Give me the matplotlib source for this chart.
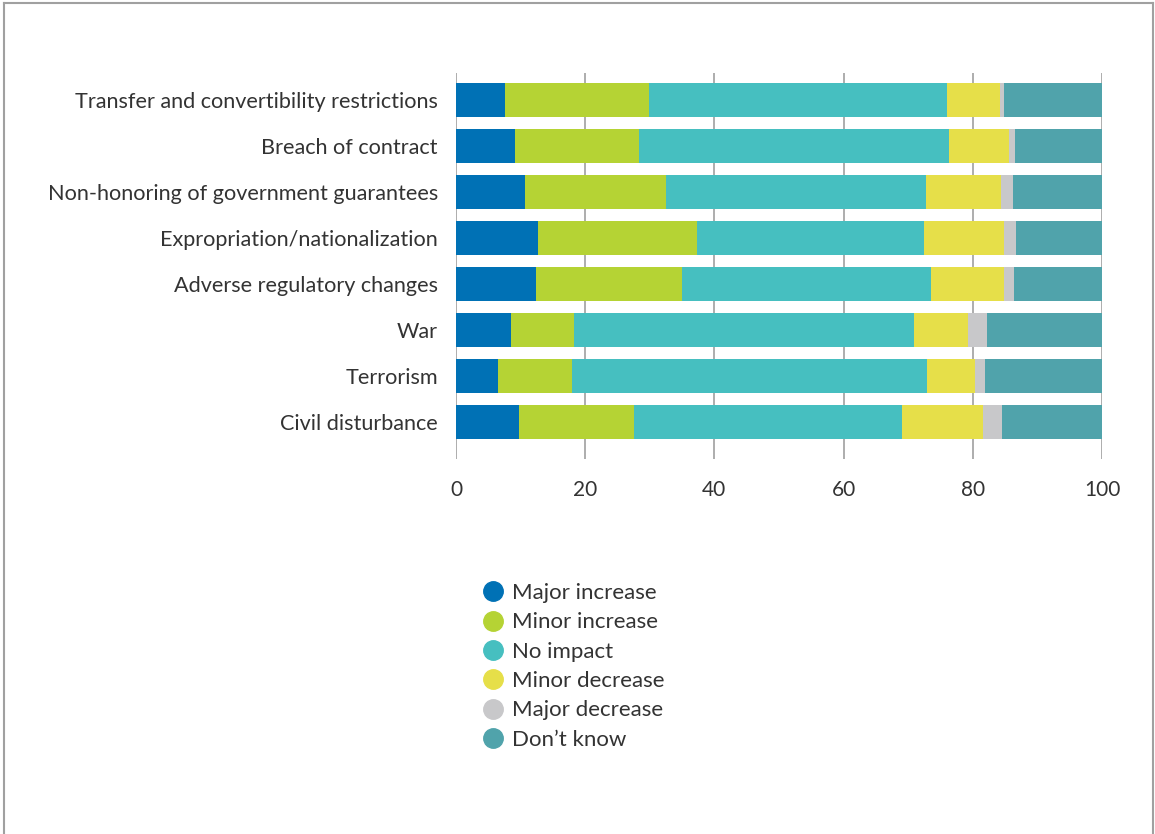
import numpy as np
import matplotlib.pyplot as plt
from matplotlib.lines import Line2D

categories = [
    "Transfer and convertibility restrictions",
    "Breach of contract",
    "Non-honoring of government guarantees",
    "Expropriation/nationalization",
    "Adverse regulatory changes",
    "War",
    "Terrorism",
    "Civil disturbance",
]
series_names = ["Major increase", "Minor increase", "No impact",
                "Minor decrease", "Major decrease", "Don\u2019t know"]
major_increase = [7.6, 9.1, 10.7, 12.7, 12.4, 8.5, 6.5, 9.8]
minor_increase = [22.3, 19.2, 21.8, 24.6, 22.6, 9.8, 11.5, 17.8]
no_impact = [46.1, 48.0, 40.3, 35.1, 38.5, 52.6, 54.9, 41.4]
minor_decrease = [8.2, 9.3, 11.6, 12.4, 11.3, 8.4, 7.4, 12.6]
major_decrease = [0.6, 0.9, 1.8, 1.9, 1.6, 2.9, 1.6, 2.9]
dont_know = [15.2, 13.5, 13.8, 13.3, 13.6, 17.8, 18.1, 15.5]
ticks = [0, 20, 40, 60, 80, 100]

colors = ["#0071b5", "#b5d334", "#46bfc0", "#e6df49", "#c8c8ca", "#50a3ab"]

font = "Lato"
W, H = 1155, 834

fig = plt.figure(figsize=(W / 100, H / 100), dpi=100)
ax = fig.add_axes([456 / W, 1 - 459 / H, (1102 - 456) / W, (459 - 73) / H])

y = np.arange(len(categories))
left = np.zeros(len(categories))
for vals, c in zip([major_increase, minor_increase, no_impact,
                    minor_decrease, major_decrease, dont_know], colors):
    ax.barh(y, vals, left=left, height=0.74, color=c, zorder=2)
    left += np.array(vals)

ax.set_xlim(0, 100)
ax.set_ylim(len(categories) - 1 + 0.804, -0.587)
for t in ticks:
    ax.axvline(t, color="#a0a0a0", lw=1.2, zorder=1)
for s in ax.spines.values():
    s.set_visible(False)
ax.set_xticks(ticks)
ax.set_xticklabels([str(t) for t in ticks], fontfamily=font,
                   fontsize=15, color="#333333")
ax.tick_params(axis="x", length=0, pad=15)
ax.set_yticks(y)
ax.set_yticklabels(categories, fontfamily=font, fontsize=15.6, color="#333333")
ax.tick_params(axis="y", length=0, pad=13)

handles = [Line2D([], [], marker="o", ls="", markersize=14, color=c) for c in colors]
fig.legend(handles, series_names, loc="upper left",
           bbox_to_anchor=(482 / W, 1 - 583 / H), frameon=False,
           prop={"family": font, "size": 16}, labelcolor="#333333",
           handletextpad=0.35, labelspacing=0.42, handlelength=1.0,
           borderpad=0, borderaxespad=0)

# page frame
bc = "#a0a0a0"
fig.add_artist(Line2D([3.5 / W, 3.5 / W], [0, 1 - 2.5 / H], color=bc, lw=1.5))
fig.add_artist(Line2D([3.5 / W, 1152.5 / W], [1 - 2.5 / H, 1 - 2.5 / H], color=bc, lw=1.5))
fig.add_artist(Line2D([1152.5 / W, 1152.5 / W], [0, 1 - 2.5 / H], color=bc, lw=1.5))

fig.savefig("out.png", dpi=100)
